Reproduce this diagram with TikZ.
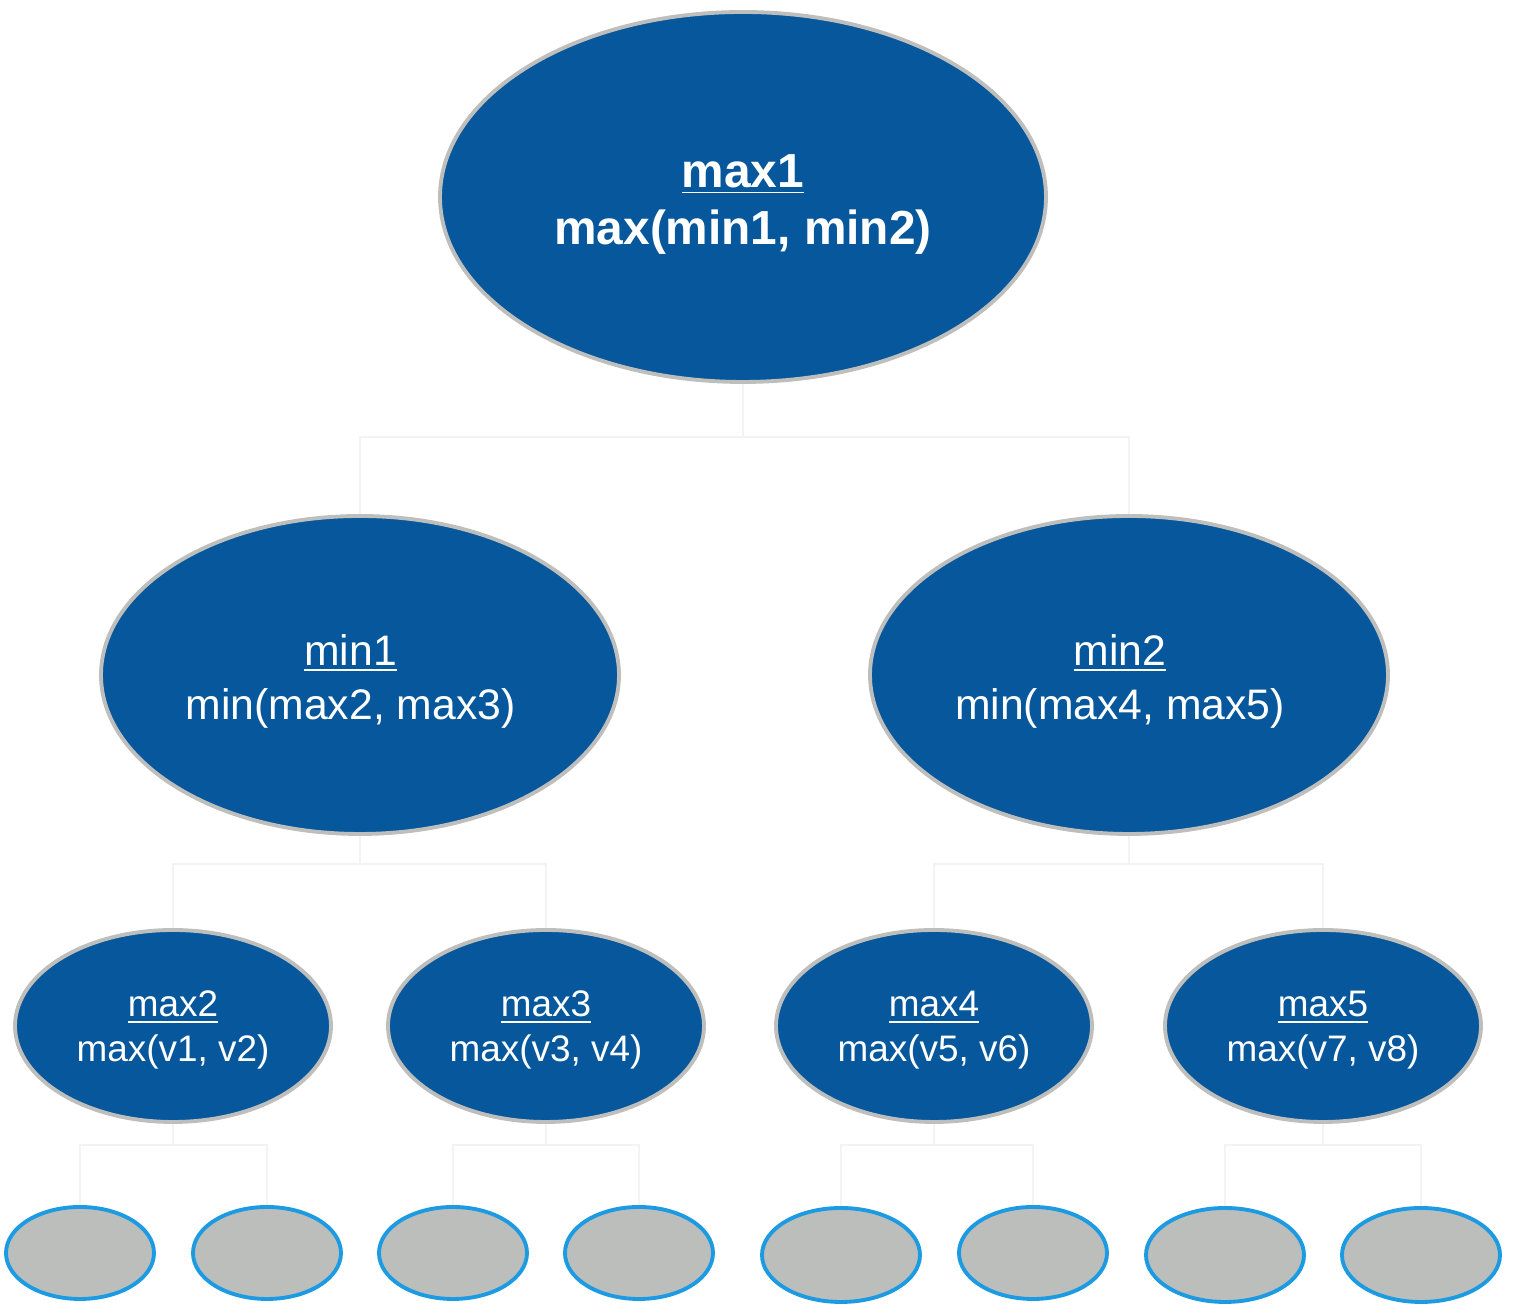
\documentclass[tikz,border=0pt]{standalone}
\usepackage{fontspec}
\setmainfont{Liberation Sans}
\usepackage{xcolor}
\usetikzlibrary{shapes,positioning,calc}

\definecolor{nodeblue}{HTML}{06579B}
\definecolor{rimgray}{HTML}{BEBFBD}
\definecolor{leafgray}{HTML}{BCBEBB}
\definecolor{leafrim}{HTML}{1D9BE2}
\definecolor{wire}{HTML}{F2F4F2}

\begin{document}
\begin{tikzpicture}[
    maxnode/.style={ellipse, draw=rimgray, line width=1.1pt, fill=nodeblue, text=white, align=center, inner sep=0pt, text depth=0pt},
    leaf/.style={ellipse, draw=leafrim, line width=1.1pt, fill=leafgray, minimum width=1.48cm, minimum height=0.92cm},
    wide/.style={minimum width=1.58cm, minimum height=0.94cm},
    conn/.style={draw=wire, line width=0.6pt}
]
    \useasboundingbox (0,0) rectangle (15.17,-13.09);

    % root
    \node[maxnode, minimum width=6.06cm, minimum height=3.70cm, text height=26.8pt, font=\fontsize{13.6}{16.2}\selectfont\bfseries] (max1) at (7.43,-1.97) {\underline{max1}\\max(min1, min2)};

    % min level
    \node[maxnode, minimum width=5.18cm, minimum height=3.18cm, text height=25.6pt, font=\fontsize{12.15}{15.6}\selectfont] (min1) at (3.60,-6.75) {\underline{min1}\kern0.19cm\\min(max2, max3)\kern0.19cm};
    \node[maxnode, minimum width=5.18cm, minimum height=3.18cm, text height=25.6pt, font=\fontsize{12.15}{15.6}\selectfont] (min2) at (11.29,-6.75) {\underline{min2}\kern0.18cm\\min(max4, max5)\kern0.18cm};

    % max level
    \node[maxnode, minimum width=3.16cm, minimum height=1.92cm, text height=20.4pt, font=\fontsize{10.5}{12.8}\selectfont] (max2) at (1.73,-10.26) {\underline{max2}\\max(v1, v2)};
    \node[maxnode, minimum width=3.16cm, minimum height=1.92cm, text height=20.4pt, font=\fontsize{10.5}{12.8}\selectfont] (max3) at (5.46,-10.26) {\underline{max3}\\max(v3, v4)};
    \node[maxnode, minimum width=3.16cm, minimum height=1.92cm, text height=20.4pt, font=\fontsize{10.5}{12.8}\selectfont] (max4) at (9.34,-10.26) {\underline{max4}\\max(v5, v6)};
    \node[maxnode, minimum width=3.16cm, minimum height=1.92cm, text height=20.4pt, font=\fontsize{10.5}{12.8}\selectfont] (max5) at (13.23,-10.26) {\underline{max5}\\max(v7, v8)};

    % leaves
    \node[leaf] (v1) at (0.80,-12.53) {};
    \node[leaf] (v2) at (2.67,-12.53) {};
    \node[leaf] (v3) at (4.53,-12.53) {};
    \node[leaf] (v4) at (6.39,-12.53) {};
    \node[leaf, wide] (v5) at (8.41,-12.55) {};
    \node[leaf] (v6) at (10.33,-12.53) {};
    \node[leaf, wide] (v7) at (12.25,-12.55) {};
    \node[leaf, wide] (v8) at (14.21,-12.55) {};

    % connectors
    \draw[conn] (max1.south) -- ++(0,-0.53) -| (min1.north);
    \draw[conn] (max1.south) -- ++(0,-0.53) -| (min2.north);
    \draw[conn] (min1.south) -- ++(0,-0.28) -| (max2.north);
    \draw[conn] (min1.south) -- ++(0,-0.28) -| (max3.north);
    \draw[conn] (min2.south) -- ++(0,-0.28) -| (max4.north);
    \draw[conn] (min2.south) -- ++(0,-0.28) -| (max5.north);
    \draw[conn] (max2.south) -- ++(0,-0.21) -| (v1.north);
    \draw[conn] (max2.south) -- ++(0,-0.21) -| (v2.north);
    \draw[conn] (max3.south) -- ++(0,-0.21) -| (v3.north);
    \draw[conn] (max3.south) -- ++(0,-0.21) -| (v4.north);
    \draw[conn] (max4.south) -- ++(0,-0.21) -| (v5.north);
    \draw[conn] (max4.south) -- ++(0,-0.21) -| (v6.north);
    \draw[conn] (max5.south) -- ++(0,-0.21) -| (v7.north);
    \draw[conn] (max5.south) -- ++(0,-0.21) -| (v8.north);
\end{tikzpicture}
\end{document}
